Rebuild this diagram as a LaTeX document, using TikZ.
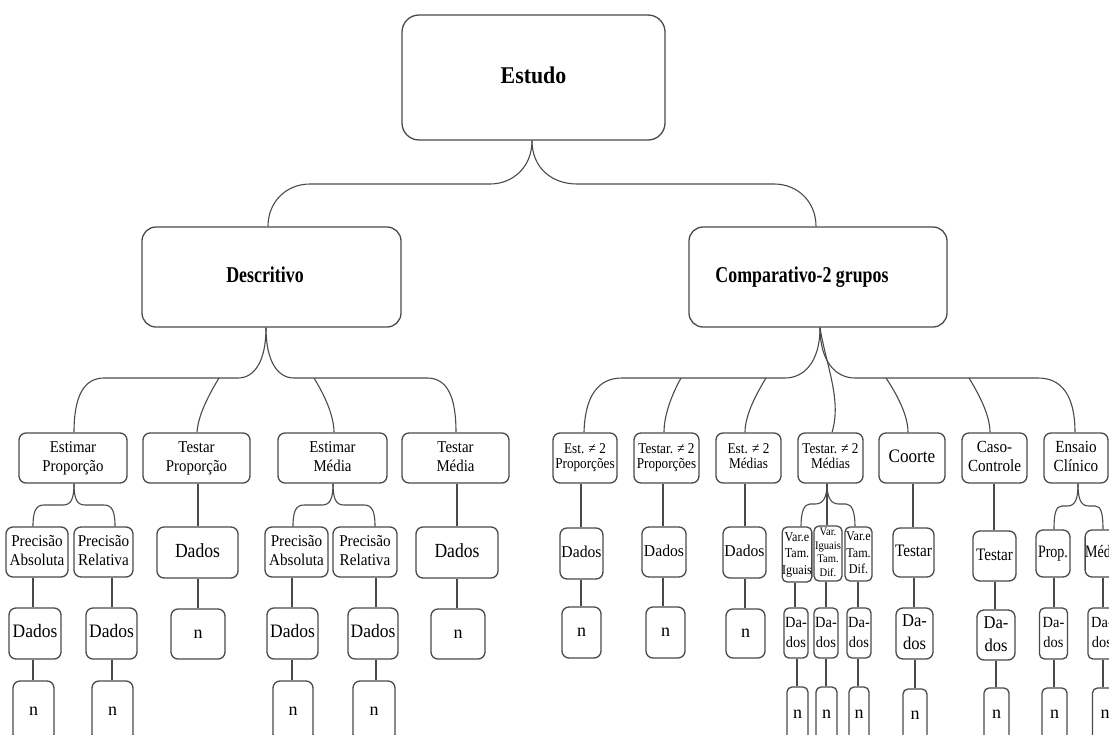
\documentclass[tikz,border=0pt]{standalone}
\usepackage{fontspec}
\setmainfont{Liberation Serif}
\usepackage{graphicx}
\usetikzlibrary{calc}
\definecolor{linec}{HTML}{4A4A4A}
\newcommand\sq[2][0.88]{\scalebox{#1}[1]{\begin{tabular}{@{}c@{}}#2\end{tabular}}}
\newcommand\fs[2]{\fontsize{#1}{#2}\selectfont}
\tikzset{
  box/.style={draw=linec, line width=1.3pt, rounded corners=7pt, inner sep=0pt, text=black},
  bigbox/.style={box, rounded corners=17pt},
  midbox/.style={box, rounded corners=14pt},
  tinybox/.style={box, rounded corners=5pt},
  conn/.style={draw=linec, line width=1.1pt},
  fA/.style={font=\fs{16.5}{19}},
  fB/.style={font=\fs{15}{15.5}},
  fC/.style={font=\fs{17}{19}},
  fD/.style={font=\fs{20}{24}},
  fE/.style={font=\fs{16.5}{20}},
  fV/.style={font=\fs{13.5}{16.5}},
  fW/.style={font=\fs{11.5}{13.5}},
  fT/.style={font=\fs{17.5}{20}},
  fS/.style={font=\fs{15.5}{20}},
  fL/.style={font=\fs{18}{23}},
  fG/.style={font=\fs{19}{22}},
  fN/.style={font=\fs{18}{20}},
}
\newcommand\bx[7][]{\node[box,minimum width=#5pt,minimum height=#6pt,#1] (#2) at (#3,#4) {#7};}
\newcommand\vl[3]{\draw[conn] (#1.south -| #3,0) -- (#2.north -| #3,0);}
\begin{document}
\begin{tikzpicture}[x=1pt,y=-1pt]
\useasboundingbox (0,0) rectangle (1109,734);
\clip (0,0) rectangle (1109,734);
% level 1-2
\bx[bigbox,font=\fs{24}{28}\bfseries]{estudo}{533.5}{77.5}{263}{125}{\sq[0.91]{Estudo}}
\bx[midbox,font=\fs{22.6}{26}\bfseries]{desc}{271.5}{277}{259}{100}{\sq[0.79]{Descritivo}\hspace*{13pt}}
\bx[midbox,font=\fs{22.6}{26}\bfseries]{comp}{818}{277}{258}{100}{\sq[0.79]{Comparativo-2 grupos}\hspace*{32pt}}
% level 3
\bx[fA]{ep}{73}{458}{108}{50}{\sq[0.9]{Estimar\\Proporção}}
\bx[fA]{tp}{196.5}{458}{107}{50}{\sq[0.9]{Testar\\Proporção}}
\bx[fA]{em}{332.5}{458}{109}{50}{\sq[0.9]{Estimar\\Média}}
\bx[fA]{tm}{455.5}{458}{107}{50}{\sq[0.9]{Testar\\Média}}
\bx[fB]{e2p}{585}{458}{64}{50}{\sq[0.88]{Est. ≠ 2\\Proporções}}
\bx[fB]{t2p}{666.5}{458}{65}{50}{\sq[0.88]{Testar. ≠ 2\\Proporções}}
\bx[fB]{e2m}{748.5}{458}{65}{50}{\sq[0.88]{Est. ≠ 2\\Médias}}
\bx[fB]{t2m}{830.5}{458}{65}{50}{\sq[0.88]{Testar. ≠ 2\\Médias}}
\bx[fG]{coorte}{912}{458}{66}{50}{\sq[0.9]{Coorte}}
\bx[fC]{caso}{994.5}{458}{65}{50}{\sq[0.89]{Caso-\\Controle}}
\bx[fC]{ensaio}{1076}{458}{64}{50}{\sq[0.89]{Ensaio\\Clínico}}
% level 4
\bx[fA]{pa1}{37}{552}{62}{50}{\sq[0.92]{Precisão\\Absoluta}}
\bx[fA]{pr1}{103.5}{552}{59}{50}{\sq[0.92]{Precisão\\Relativa}}
\bx[fD]{dtp}{197.5}{552.5}{81}{51}{\sq[0.88]{Dados}}
\bx[fA]{pa2}{296.5}{552}{63}{50}{\sq[0.92]{Precisão\\Absoluta}}
\bx[fA]{pr2}{365}{552}{64}{50}{\sq[0.92]{Precisão\\Relativa}}
\bx[fD]{dtm}{457}{552.5}{82}{51}{\sq[0.88]{Dados}}
\bx[fE]{d2p1}{581.5}{553.5}{43}{51}{\sq[0.95]{Dados}}
\bx[fE]{d2p2}{664}{552}{44}{50}{\sq[0.95]{Dados}}
\bx[fE]{d2m}{744.5}{552.5}{43}{51}{\sq[0.95]{Dados}}
\bx[fV,tinybox]{v1}{797}{554.5}{28}{55}{\sq[0.9]{Var.e\\Tam.\\Iguais}}
\bx[fW,tinybox]{v2}{828}{553.5}{28}{55}{\sq[0.92]{Var.\\Iguais\\Tam.\\Dif.}}
\bx[fV,tinybox]{v3}{858.5}{554}{27}{54}{\sq[0.9]{Var.e\\Tam.\\Dif.}}
\bx[fT]{testc}{913.5}{552.5}{41}{49}{\sq[0.87]{Testar}}
\bx[fT]{testcc}{994.5}{556}{43}{50}{\sq[0.87]{Testar}}
\bx[fT]{prop}{1053}{553.5}{34}{47}{\sq[0.8]{Prop.}}
\bx[fT]{med}{1103}{553.5}{34}{47}{\sq[0.8]{Média}}
% level 5
\bx[fG]{dpa1}{35}{633.5}{52}{51}{\sq[0.92]{Dados}}
\bx[fG]{dpr1}{111.5}{633.5}{51}{51}{\sq[0.92]{Dados}}
\bx[fN]{ntp}{198}{634}{54}{50}{n}
\bx[fG]{dpa2}{292.5}{633.5}{51}{51}{\sq[0.92]{Dados}}
\bx[fG]{dpr2}{373}{633.5}{50}{51}{\sq[0.92]{Dados}}
\bx[fN]{ntm}{458}{634}{54}{50}{n}
\bx[fN]{n2p1}{581.5}{632.5}{39}{51}{n}
\bx[fN]{n2p2}{665.5}{632.5}{39}{51}{n}
\bx[fN]{n2m}{745.5}{633.5}{39}{49}{n}
\bx[fS,tinybox]{dv1}{796}{633}{24}{50}{\sq[0.93]{Da-\\dos}}
\bx[fS,tinybox]{dv2}{826}{633}{24}{50}{\sq[0.93]{Da-\\dos}}
\bx[fS,tinybox]{dv3}{859}{633}{24}{50}{\sq[0.93]{Da-\\dos}}
\bx[fL]{dtc}{914.5}{633.5}{37}{51}{\sq[0.92]{Da-\\dos}}
\bx[fL]{dtcc}{996}{635}{38}{50}{\sq[0.92]{Da-\\dos}}
\bx[fS,tinybox]{dprop}{1053.5}{633.5}{28}{51}{\sq[0.93]{Da-\\dos}}
\bx[fS,tinybox]{dmed}{1102}{633.5}{28}{51}{\sq[0.93]{Da-\\dos}}
% level 6
\bx[fN]{npa1}{33.5}{711}{41}{60}{n}
\bx[fN]{npr1}{112.5}{711}{41}{60}{n}
\bx[fN]{npa2}{293}{711}{40}{60}{n}
\bx[fN]{npr2}{374}{711}{42}{60}{n}
\bx[fN,tinybox]{nv1}{797.5}{714}{21}{54}{n}
\bx[fN,tinybox]{nv2}{826.5}{714}{21}{54}{n}
\bx[fN,tinybox]{nv3}{859}{714}{20}{54}{n}
\bx[fN,tinybox]{ntc}{915}{715}{24}{52}{n}
\bx[fN,tinybox]{ntcc}{996.5}{714.5}{25}{53}{n}
\bx[fN,tinybox]{nprop}{1054.5}{714.5}{25}{53}{n}
\bx[fN,tinybox]{nmed}{1105}{714.5}{25}{53}{n}
% connectors level 1-2
\draw[conn] (estudo.south -| 532,0) .. controls (532,168) and (512,184) .. (490,184) -- (310,184) .. controls (286,184) and (268,202) .. (desc.north -| 268,0);
\draw[conn] (estudo.south -| 532,0) .. controls (532,168) and (552,184) .. (577,184) -- (774,184) .. controls (798,184) and (816,202) .. (comp.north -| 816,0);
% Descritivo
\coordinate (b1) at (219,378);
\coordinate (b2) at (314,378);
\draw[conn] (desc.south -| 266,0) .. controls (266,362) and (254,378) .. (238,378) -- (104,378) .. controls (84,378) and (74,396) .. (ep.north -| 74,0);
\draw[conn] (desc.south -| 266,0) .. controls (266,362) and (278,378) .. (294,378) -- (427,378) .. controls (447,378) and (456,396) .. (tm.north -| 456,0);
\draw[conn] (b1) .. controls (208,396) and (198,416) .. (tp.north -| 197,0);
\draw[conn] (b2) .. controls (325,396) and (334,416) .. (em.north -| 334,0);
% Comparativo
\coordinate (c1) at (681,378);
\coordinate (c2) at (766,378);
\coordinate (c3) at (886,378);
\coordinate (c4) at (969,378);
\draw[conn] (comp.south -| 820,0) .. controls (820,362) and (804,378) .. (785,378) -- (622,378) .. controls (598,378) and (585,396) .. (e2p.north -| 584,0);
\draw[conn] (comp.south -| 820,0) .. controls (820,362) and (836,378) .. (855,378) -- (1038,378) .. controls (1062,378) and (1075,396) .. (ensaio.north -| 1075,0);
\draw[conn] (comp.south -| 820,0) .. controls (826,365) and (842,400) .. (t2m.north -| 832,0);
\draw[conn] (c1) .. controls (671,396) and (664,416) .. (t2p.north -| 664,0);
\draw[conn] (c2) .. controls (755,396) and (745,416) .. (e2m.north -| 745,0);
\draw[conn] (c3) .. controls (898,396) and (908,416) .. (coorte.north -| 908,0);
\draw[conn] (c4) .. controls (980,396) and (990,416) .. (caso.north -| 990,0);
% braces level 3-4
\draw[conn] (ep.south -| 74,0) .. controls (74,499) and (71,505) .. (63,505) -- (44,505) .. controls (36,505) and (33,511) .. (pa1.north -| 33,0);
\draw[conn] (ep.south -| 74,0) .. controls (74,499) and (77,505) .. (85,505) -- (104,505) .. controls (112,505) and (115,511) .. (pr1.north -| 115,0);
\draw[conn] (em.south -| 333,0) .. controls (333,499) and (330,505) .. (322,505) -- (304,505) .. controls (296,505) and (293,511) .. (pa2.north -| 293,0);
\draw[conn] (em.south -| 333,0) .. controls (333,499) and (336,505) .. (344,505) -- (364,505) .. controls (372,505) and (375,511) .. (pr2.north -| 375,0);
\draw[conn] (t2m.south -| 827,0) .. controls (827,498) and (823,504) .. (815,504) -- (810,504) .. controls (804,504) and (801,512) .. (v1.north -| 801,0);
\draw[conn] (t2m.south -| 827,0) -- (v2.north -| 827,0);
\draw[conn] (t2m.south -| 827,0) .. controls (827,498) and (831,504) .. (839,504) -- (846,504) .. controls (852,504) and (855,512) .. (v3.north -| 855,0);
\draw[conn] (ensaio.south -| 1078,0) .. controls (1078,500) and (1075,506) .. (1067,506) -- (1062,506) .. controls (1056,506) and (1054,513) .. (prop.north -| 1054,0);
\draw[conn] (ensaio.south -| 1078,0) .. controls (1078,500) and (1081,506) .. (1089,506) -- (1095,506) .. controls (1101,506) and (1103,513) .. (med.north -| 1103,0);
% straight links
\vl{tp}{dtp}{198}
\vl{tm}{dtm}{457}
\vl{e2p}{d2p1}{581}
\vl{t2p}{d2p2}{663}
\vl{e2m}{d2m}{745}
\vl{coorte}{testc}{913}
\vl{caso}{testcc}{994}
\vl{pa1}{dpa1}{33}
\vl{pr1}{dpr1}{112}
\vl{dtp}{ntp}{198}
\vl{pa2}{dpa2}{292}
\vl{pr2}{dpr2}{376}
\vl{dtm}{ntm}{457}
\vl{d2p1}{n2p1}{581}
\vl{d2p2}{n2p2}{663}
\vl{d2m}{n2m}{745}
\vl{v1}{dv1}{795}
\vl{v2}{dv2}{826}
\vl{v3}{dv3}{858}
\vl{testc}{dtc}{914}
\vl{testcc}{dtcc}{995}
\vl{prop}{dprop}{1054}
\vl{med}{dmed}{1103}
\vl{dpa1}{npa1}{33}
\vl{dpr1}{npr1}{112}
\vl{dpa2}{npa2}{292}
\vl{dpr2}{npr2}{376}
\vl{dv1}{nv1}{797}
\vl{dv2}{nv2}{826}
\vl{dv3}{nv3}{858}
\vl{dtc}{ntc}{915}
\vl{dtcc}{ntcc}{996}
\vl{dprop}{nprop}{1054}
\vl{dmed}{nmed}{1103}
\end{tikzpicture}
\end{document}
